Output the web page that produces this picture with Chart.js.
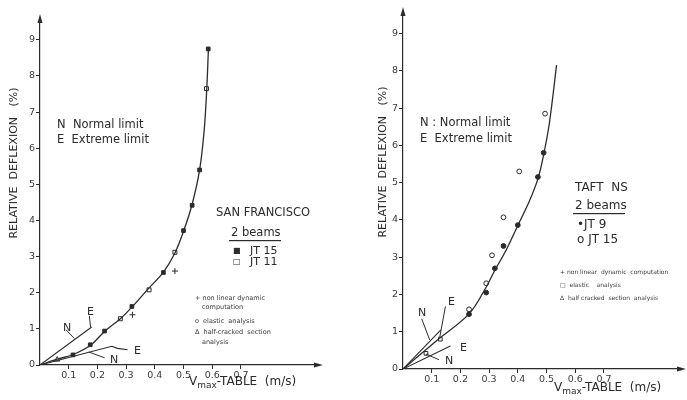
<!DOCTYPE html>
<html><head><meta charset="utf-8">
<script src="https://cdn.jsdelivr.net/npm/chart.js@4"></script>
<style>
html,body{margin:0;padding:0;background:#fff;}
#wrap{position:relative;width:687px;height:400px;overflow:hidden;background:#fff;}
canvas{position:absolute;top:0;}
#c1{left:0;} #c2{left:343px;}
</style></head><body>
<div id="wrap"><canvas id="c1" width="343" height="400"></canvas><canvas id="c2" width="344" height="400"></canvas></div>
<script>
// axis ticks shared by both panels
const xTicks = [0.1, 0.2, 0.3, 0.4, 0.5, 0.6, 0.7];
const yTicks = [0, 1, 2, 3, 4, 5, 6, 7, 8, 9];

// San Francisco: fitted curve and measured points
const sfCurveX = [0, 0.06, 0.115, 0.175, 0.225, 0.28, 0.32, 0.376, 0.43, 0.47, 0.50, 0.53, 0.556, 0.572, 0.581, 0.587];
const sfCurveY = [0, 0.16, 0.29, 0.54, 0.93, 1.28, 1.6, 2.1, 2.57, 3.1, 3.7, 4.45, 5.4, 6.5, 7.65, 8.8];
const sfJT15X = [0.115, 0.175, 0.225, 0.32, 0.43, 0.50, 0.53, 0.556, 0.586];
const sfJT15Y = [0.28, 0.56, 0.94, 1.62, 2.56, 3.72, 4.42, 5.4, 8.75];
const sfJT11X = [0.28, 0.38, 0.47, 0.58];
const sfJT11Y = [1.28, 2.08, 3.12, 7.65];
const sfNonLinX = [0.322, 0.47];
const sfNonLinY = [1.39, 2.6];
const sfHalfX = [0.06];
const sfHalfY = [0.15];
// limit lines (normal / extreme) and their leaders
const sfUpperX = [0, 0.18];
const sfUpperY = [0, 1.05];
const sfLowerX = [0, 0.25, 0.27, 0.305];
const sfLowerY = [0, 0.52, 0.46, 0.42];
const sfLeaderX = [0.09, 0.12, null, 0.172, 0.176, null, 0.225, 0.17];
const sfLeaderY = [0.98, 0.73, null, 1.36, 1.05, null, 0.2, 0.36];

// Taft NS: fitted curve and measured points
const tfCurveX = [0, 0.12, 0.23, 0.29, 0.32, 0.36, 0.40, 0.44, 0.47, 0.49, 0.51, 0.535];
const tfCurveY = [0, 0.78, 1.48, 2.2, 2.65, 3.2, 3.85, 4.5, 5.1, 5.75, 6.6, 8.15];
const tfJT9X = [0.23, 0.29, 0.32, 0.35, 0.40, 0.47, 0.49];
const tfJT9Y = [1.47, 2.05, 2.7, 3.3, 3.86, 5.15, 5.8];
const tfJT15X = [0.23, 0.29, 0.31, 0.35, 0.405, 0.495];
const tfJT15Y = [1.6, 2.3, 3.05, 4.07, 5.3, 6.85];
const tfElasticX = [0.08, 0.13];
const tfElasticY = [0.42, 0.8];
const tfUpperX = [0, 0.132];
const tfUpperY = [0, 1.05];
const tfLowerX = [0, 0.165];
const tfLowerY = [0, 0.62];
const tfLeaderX = [0.065, 0.093, null, 0.148, 0.128, null, 0.125, 0.08];
const tfLeaderY = [1.35, 0.78, null, 1.68, 0.85, null, 0.25, 0.4];

const INK = '#2b2b2b';
const pts = (xs, ys) => xs.map((x, i) => ({x: x, y: ys[i] === null ? null : ys[i]}));

function lineSet(xs, ys, w, smooth) {
  return {data: pts(xs, ys), showLine: true, borderColor: INK, borderWidth: w, pointRadius: 0,
          tension: smooth ? 0.35 : 0, spanGaps: false, fill: false};
}
function markSet(xs, ys, style, filled, r) {
  return {data: pts(xs, ys), showLine: false, pointStyle: style, pointRadius: r || 2.6,
          borderColor: INK, borderWidth: 1, backgroundColor: filled ? INK : '#fff'};
}

function scalesFor(yWidth, xh) {
  const font = {family: 'DejaVu Sans', size: 9.5};
  return {
    x: {type: 'linear', min: 0, max: 0.965,
        afterBuildTicks: s => { s.ticks = xTicks.map(v => ({value: v})); },
        afterFit: s => { s.height = xh; },
        ticks: {callback: v => v.toFixed(1), font: font, color: '#3a3a3a', padding: 1, maxRotation: 0, autoSkip: false},
        grid: {drawOnChartArea: false, drawTicks: true, tickLength: 4, color: INK},
        border: {display: true, color: INK, width: 1.2}},
    y: {type: 'linear', min: 0, max: 9.55,
        afterBuildTicks: s => { s.ticks = yTicks.map(v => ({value: v})); },
        afterFit: s => { s.width = yWidth; },
        ticks: {font: font, color: '#3a3a3a', padding: 1, autoSkip: false},
        grid: {drawOnChartArea: false, drawTicks: true, tickLength: 4, color: INK},
        border: {display: true, color: INK, width: 1.2}}
  };
}

function txt(ctx, s, x, y, size, align) {
  ctx.font = size + 'px "DejaVu Sans"';
  ctx.textAlign = align || 'left';
  ctx.textBaseline = 'middle';
  ctx.fillText(s, x, y);
}

function drawAxesExtras(ctx, a) {
  ctx.fillStyle = INK;
  // arrow on the vertical axis
  ctx.beginPath(); ctx.moveTo(a.left, a.top - 6); ctx.lineTo(a.left - 2.5, a.top + 3); ctx.lineTo(a.left + 2.5, a.top + 3); ctx.closePath(); ctx.fill();
  // arrow on the horizontal axis
  ctx.beginPath(); ctx.moveTo(a.right + 6, a.bottom); ctx.lineTo(a.right - 3, a.bottom - 2.5); ctx.lineTo(a.right - 3, a.bottom + 2.5); ctx.closePath(); ctx.fill();
}

function xTitle(ctx, x, y) {
  ctx.fillStyle = INK;
  ctx.font = '12px "DejaVu Sans"'; ctx.textAlign = 'left'; ctx.textBaseline = 'alphabetic';
  ctx.fillText('V', x, y);
  let w = ctx.measureText('V').width;
  ctx.font = '9px "DejaVu Sans"';
  ctx.fillText('max', x + w, y + 3);
  w += ctx.measureText('max').width;
  ctx.font = '12px "DejaVu Sans"';
  ctx.fillText('-TABLE  (m/s)', x + w, y);
}

function yTitle(ctx, x, y) {
  ctx.save(); ctx.translate(x, y); ctx.rotate(-Math.PI / 2);
  ctx.fillStyle = INK; txt(ctx, 'RELATIVE  DEFLEXION   (%)', 0, 0, 11, 'center');
  ctx.restore();
}

const sfText = {id: 'sfText', afterDraw(chart) {
  const ctx = chart.ctx; const a = chart.chartArea;
  ctx.save();
  drawAxesExtras(ctx, a);
  yTitle(ctx, 14, 163);
  xTitle(ctx, 189, 385);
  ctx.fillStyle = INK;
  txt(ctx, 'N  Normal limit', 57, 125, 11.5);
  txt(ctx, 'E  Extreme limit', 57, 140, 11.5);
  txt(ctx, 'N', 63, 328, 11); txt(ctx, 'E', 87, 312, 11);
  txt(ctx, 'N', 110, 360, 11); txt(ctx, 'E', 134, 351, 11);
  txt(ctx, 'SAN FRANCISCO', 216, 213, 11.5);
  txt(ctx, '2 beams', 231, 233, 11.5);
  ctx.fillRect(229, 240, 52, 1.2);
  txt(ctx, '■', 233, 251, 8); txt(ctx, 'JT 15', 250, 251, 11);
  txt(ctx, '□', 233, 262, 8); txt(ctx, 'JT 11', 250, 262, 11);
  ctx.fillStyle = '#3a3a3a';
  txt(ctx, '+ non linear dynamic', 195, 298, 6.5);
  txt(ctx, 'computation', 202, 307, 6.5);
  txt(ctx, 'o  elastic  analysis', 195, 321, 6.5);
  txt(ctx, 'Δ  half-cracked  section', 195, 332, 6.5);
  txt(ctx, 'analysis', 202, 342, 6.5);
  ctx.restore();
}};

const tfText = {id: 'tfText', afterDraw(chart) {
  const ctx = chart.ctx; const a = chart.chartArea;
  ctx.save();
  drawAxesExtras(ctx, a);
  yTitle(ctx, 40, 162);
  xTitle(ctx, 211, 391);
  ctx.fillStyle = INK;
  txt(ctx, 'N : Normal limit', 77, 123, 11.5);
  txt(ctx, 'E  Extreme limit', 77, 139, 11.5);
  txt(ctx, 'N', 75, 313, 11); txt(ctx, 'E', 105, 302, 11);
  txt(ctx, 'E', 117, 348, 11); txt(ctx, 'N', 102, 361, 11);
  txt(ctx, 'TAFT  NS', 232, 188, 12);
  txt(ctx, '2 beams', 232, 206, 12);
  ctx.fillRect(230, 213, 52, 1.2);
  txt(ctx, '•JT 9', 234, 225, 12);
  txt(ctx, 'o JT 15', 234, 240, 12);
  ctx.fillStyle = '#3a3a3a';
  txt(ctx, '+ non linear  dynamic  computation', 217, 272, 6);
  txt(ctx, '□  elastic    analysis', 217, 285, 6);
  txt(ctx, 'Δ  half cracked  section  analysis', 217, 298, 6);
  ctx.restore();
}};

function makeChart(id, datasets, yWidth, pad, plugin) {
  return new Chart(document.getElementById(id), {
    type: 'scatter',
    data: {datasets: datasets},
    options: {responsive: false, animation: false, devicePixelRatio: 1,
      layout: {padding: {left: 0, top: pad.top, right: pad.right, bottom: 0}},
      plugins: {legend: {display: false}, tooltip: {enabled: false}},
      scales: scalesFor(yWidth, pad.xh)},
    plugins: [plugin]
  });
}

makeChart('c1', [
  lineSet(sfCurveX, sfCurveY, 1.3, true),
  lineSet(sfUpperX, sfUpperY, 1.1, false),
  lineSet(sfLowerX, sfLowerY, 1.1, false),
  lineSet(sfLeaderX, sfLeaderY, 1, false),
  markSet(sfJT15X, sfJT15Y, 'rect', true, 2.6),
  markSet(sfJT11X, sfJT11Y, 'rect', false, 2.8),
  markSet(sfNonLinX, sfNonLinY, 'cross', false, 3),
  markSet(sfHalfX, sfHalfY, 'triangle', false, 3)
], 40, {top: 20, right: 26, xh: 35}, sfText);

makeChart('c2', [
  lineSet(tfCurveX, tfCurveY, 1.3, true),
  lineSet(tfUpperX, tfUpperY, 1.1, false),
  lineSet(tfLowerX, tfLowerY, 1.1, false),
  lineSet(tfLeaderX, tfLeaderY, 1, false),
  markSet(tfJT9X, tfJT9Y, 'circle', true, 2.4),
  markSet(tfJT15X, tfJT15Y, 'circle', false, 2.4),
  markSet(tfElasticX, tfElasticY, 'rect', false, 2.6)
], 60, {top: 13, right: 7, xh: 31}, tfText);
</script>
</body></html>
